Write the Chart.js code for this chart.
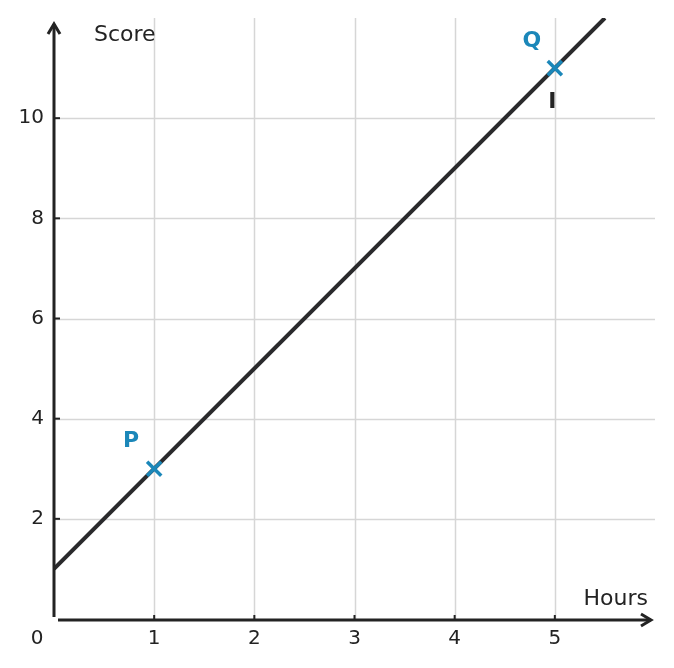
<!DOCTYPE html>
<html>
<head>
<meta charset="utf-8">
<script src="https://cdn.jsdelivr.net/npm/chart.js@4/dist/chart.umd.min.js"></script>
<style>
  html, body { margin: 0; padding: 0; background: #ffffff; }
  #wrap { width: 674px; height: 668px; }
</style>
</head>
<body>
<div id="wrap"><canvas id="c" width="674" height="668"></canvas></div>
<script>
// ---- data ----
const xTickValues = [1, 2, 3, 4, 5];
const yTickValues = [2, 4, 6, 8, 10];
const xTickLabels = ['1', '2', '3', '4', '5'];
const yTickLabels = ['2', '4', '6', '8', '10'];
const lineX = [0, 5.5];
const lineY = [1, 12];
const pointNames = ['P', 'Q'];
const pointX = [1, 5];
const pointY = [3, 11];
const xTitle = 'Hours';
const yTitle = 'Score';
const originLabel = '0';
const extraMarkText = 'I';
const extraMarkX = 4.975;
const extraMarkY = 10.32;

const FONT = "'DejaVu Sans', sans-serif";
const INK = '#232323';
const BLUE = '#1b87b9';
const GRID = '#d6d6d6';

const decor = {
  id: 'decor',
  beforeDatasetsDraw(chart) {
    const ctx = chart.ctx;
    const xs = chart.scales.x, ys = chart.scales.y;
    const a = chart.chartArea;
    ctx.save();
    ctx.strokeStyle = GRID;
    ctx.lineWidth = 1.5;
    xTickValues.forEach(v => {
      const px = Math.round(xs.getPixelForValue(v)) + 0.5;
      ctx.beginPath(); ctx.moveTo(px, a.top); ctx.lineTo(px, a.bottom); ctx.stroke();
    });
    yTickValues.forEach(v => {
      const py = Math.round(ys.getPixelForValue(v)) + 0.5;
      ctx.beginPath(); ctx.moveTo(a.left, py); ctx.lineTo(a.right, py); ctx.stroke();
    });
    ctx.restore();
  },
  afterDatasetsDraw(chart) {
    const ctx = chart.ctx;
    const xs = chart.scales.x, ys = chart.scales.y;
    const x0 = xs.getPixelForValue(0);
    const y0 = ys.getPixelForValue(0);
    ctx.save();
    ctx.strokeStyle = INK;
    ctx.fillStyle = INK;
    ctx.lineWidth = 3;
    ctx.lineCap = 'butt';
    // y axis
    const yTop = ys.getPixelForValue(11.88);
    ctx.beginPath(); ctx.moveTo(x0, y0 - 2); ctx.lineTo(x0, yTop); ctx.stroke();
    ctx.lineJoin = 'miter';
    ctx.beginPath(); ctx.moveTo(x0 - 6, yTop + 10); ctx.lineTo(x0, yTop); ctx.lineTo(x0 + 6, yTop + 10); ctx.stroke();
    // x axis
    const xRight = xs.getPixelForValue(5.96);
    ctx.beginPath(); ctx.moveTo(x0 + 4, y0 + 1); ctx.lineTo(xRight, y0 + 1); ctx.stroke();
    ctx.beginPath(); ctx.moveTo(xRight - 10, y0 + 1 - 6); ctx.lineTo(xRight, y0 + 1); ctx.lineTo(xRight - 10, y0 + 1 + 6); ctx.stroke();
    // ticks
    ctx.lineWidth = 2;
    xTickValues.forEach(v => {
      const px = xs.getPixelForValue(v);
      ctx.beginPath(); ctx.moveTo(px, y0 + 1); ctx.lineTo(px, y0 - 4); ctx.stroke();
    });
    yTickValues.forEach(v => {
      const py = ys.getPixelForValue(v);
      ctx.beginPath(); ctx.moveTo(x0, py); ctx.lineTo(x0 + 6, py); ctx.stroke();
    });
    // tick labels
    ctx.font = '20px ' + FONT;
    ctx.textAlign = 'center';
    ctx.textBaseline = 'middle';
    xTickValues.forEach((v, i) => {
      ctx.fillText(xTickLabels[i], xs.getPixelForValue(v), y0 + 20);
    });
    ctx.textAlign = 'right';
    yTickValues.forEach((v, i) => {
      ctx.fillText(yTickLabels[i], x0 - 10, ys.getPixelForValue(v));
    });
    ctx.textAlign = 'center';
    ctx.fillText(originLabel, x0 - 17, y0 + 20);
    // axis titles
    ctx.font = '22px ' + FONT;
    ctx.textAlign = 'left';
    ctx.fillText(yTitle, x0 + 40, ys.getPixelForValue(11.66));
    ctx.textAlign = 'right';
    ctx.fillText(xTitle, xs.getPixelForValue(5.93), ys.getPixelForValue(0.4));
    // point labels
    ctx.font = 'bold 22px ' + FONT;
    ctx.fillStyle = BLUE;
    ctx.textAlign = 'center';
    pointNames.forEach((n, i) => {
      ctx.fillText(n, xs.getPixelForValue(pointX[i]) - 23, ys.getPixelForValue(pointY[i]) - 27);
    });
    ctx.fillStyle = INK;
    ctx.fillText(extraMarkText, xs.getPixelForValue(extraMarkX), ys.getPixelForValue(extraMarkY));
    ctx.restore();
  }
};

new Chart(document.getElementById('c'), {
  type: 'scatter',
  data: {
    datasets: [
      {
        type: 'line',
        data: lineX.map((x, i) => ({ x: x, y: lineY[i] })),
        borderColor: '#2a2a2c',
        borderWidth: 4,
        pointRadius: 0,
        fill: false,
        order: 2
      },
      {
        data: pointX.map((x, i) => ({ x: x, y: pointY[i] })),
        pointStyle: 'crossRot',
        pointRadius: 10,
        pointBorderWidth: 3.5,
        borderColor: BLUE,
        backgroundColor: BLUE,
        order: 1
      }
    ]
  },
  options: {
    responsive: false,
    animation: false,
    devicePixelRatio: 1,
    layout: { padding: { left: 54, right: 19, top: 18, bottom: 49 } },
    plugins: { legend: { display: false }, tooltip: { enabled: false } },
    scales: {
      x: { type: 'linear', min: 0, max: 6, display: false },
      y: { type: 'linear', min: 0, max: 12, display: false }
    }
  },
  plugins: [decor]
});
</script>
</body>
</html>
